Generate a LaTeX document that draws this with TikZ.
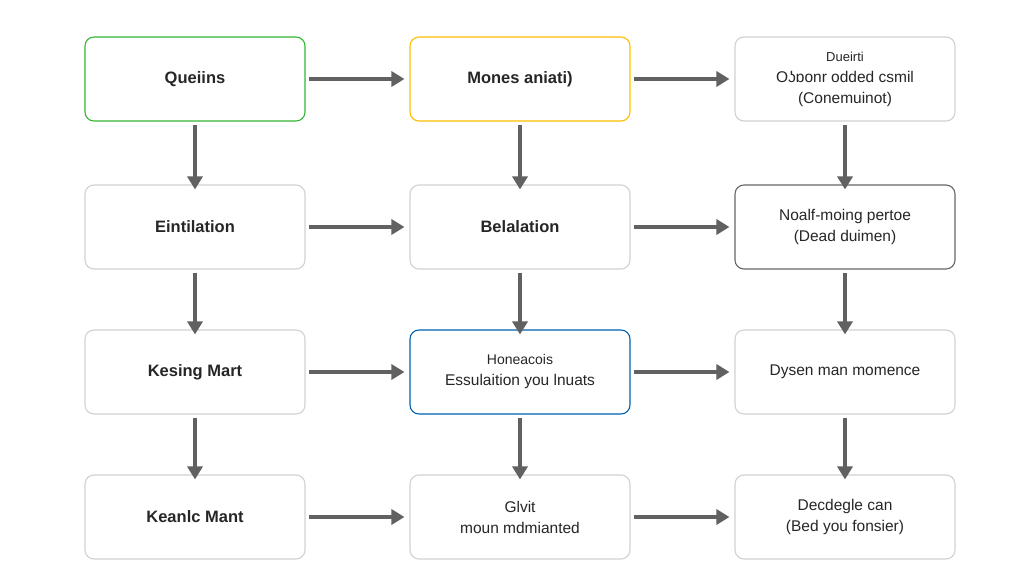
\documentclass[tikz,border=0pt]{standalone}
\usepackage{fontspec}
\setmainfont{Liberation Sans}
\usetikzlibrary{arrows.meta}
\begin{document}
\begin{tikzpicture}[x=1pt,y=-1pt,
 box/.style={draw=#1,line width=1.1pt,rounded corners=9pt,fill=white,minimum width=220pt,minimum height=84pt,align=center,font=\fontsize{15.5}{21}\selectfont,text=black!85},
 box/.default={black!18},
 arr/.style={draw=black!62,line width=3.5pt,-{Triangle[length=13pt,width=15pt]}}]
\useasboundingbox[fill=white] (0,0) rectangle (1024,585);
\def\ca{195}\def\cb{520}\def\cc{845}
\def\ra{79}\def\rb{227}\def\rc{372}\def\rd{517}
\node[box=green!65!black!80,font=\fontsize{16.5}{21}\bfseries] (a1) at (\ca,\ra) {Queiins};
\node[box=orange!50!yellow,font=\fontsize{16.5}{21}\bfseries] (b1) at (\cb,\ra) {Mones aniati)};
\node[box] (c1) at (\cc,\ra) {{\fontsize{13}{18}\selectfont Dueirti}\\Oʖɒonr odded csmil\\(Conemuinot)};
\node[box,font=\fontsize{16.5}{21}\bfseries] (a2) at (\ca,\rb) {Eintilation};
\node[box,font=\fontsize{16.5}{21}\bfseries] (b2) at (\cb,\rb) {Belalation};
\node[box=black!60] (c2) at (\cc,\rb) {Noalf-moing pertoe\\(Dead duimen)};
\node[box,font=\fontsize{16.5}{21}\bfseries] (a3) at (\ca,\rc) {Kesing Mart};
\node[box=blue!45!cyan!70!black] (b3) at (\cb,\rc) {{\fontsize{14}{19}\selectfont Honeacois}\\Essulaition you lnuats};
\node[box] (c3) at (\cc,\rc) {Dysen man momence};
\node[box,font=\fontsize{16.5}{21}\bfseries] (a4) at (\ca,\rd) {Keanlc Mant};
\node[box] (b4) at (\cb,\rd) {Glvit\\moun mdmianted};
\node[box] (c4) at (\cc,\rd) {Decdegle can\\(Bed you fonsier)};
\foreach \r in {1,2,3,4}{
 \draw[arr] ([xshift=3pt]a\r.east) -- ([xshift=-5pt]b\r.west);
 \draw[arr] ([xshift=3pt]b\r.east) -- ([xshift=-5pt]c\r.west);}
\foreach \c in {a,b,c}{
 \draw[arr] (\c1.south) ++(0,3) -- ([yshift=-5pt]\c2.north);
 \draw[arr] (\c2.south) ++(0,3) -- ([yshift=-5pt]\c3.north);
 \draw[arr] (\c3.south) ++(0,3) -- ([yshift=-5pt]\c4.north);}
\end{tikzpicture}
\end{document}
